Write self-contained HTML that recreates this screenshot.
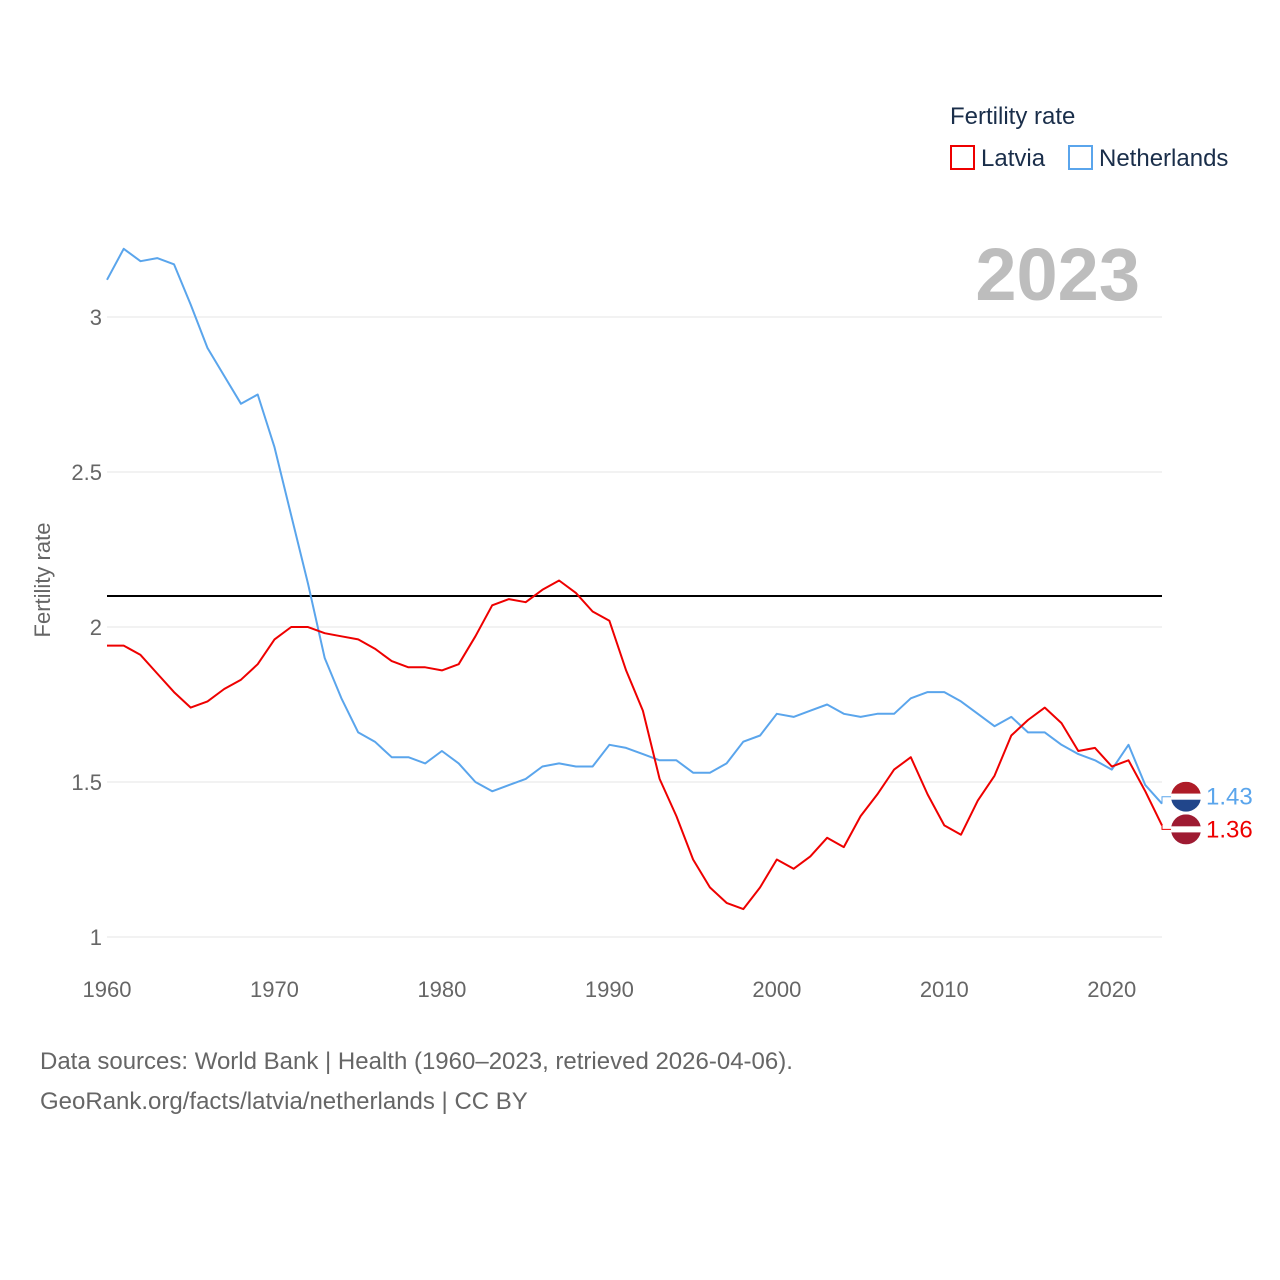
<!DOCTYPE html>
<html><head><meta charset="utf-8"><style>
html,body{margin:0;padding:0;background:#fff;}
svg{display:block;font-family:"Liberation Sans",sans-serif;}
</style></head><body>
<svg id="chart" width="1280" height="1280" viewBox="0 0 1280 1280" xmlns="http://www.w3.org/2000/svg">
<g id="grid"></g>
<g id="yticks"></g>
<g id="xticks"></g>
<text transform="translate(50,580) rotate(-90)" text-anchor="middle" font-size="22" fill="#666">Fertility rate</text>
<text x="1140" y="300" text-anchor="end" font-size="74" font-weight="bold" fill="#bdbdbd">2023</text>
<g>
<text x="950" y="124" font-size="24" fill="#1a2e4a">Fertility rate</text>
<rect x="951" y="146" width="23" height="23" fill="none" stroke="#e00" stroke-width="2"/>
<text x="981" y="166" font-size="24" fill="#1a2e4a">Latvia</text>
<rect x="1069" y="146" width="23" height="23" fill="none" stroke="#5aa5ec" stroke-width="2"/>
<text x="1099" y="166" font-size="24" fill="#1a2e4a">Netherlands</text>
</g>
<g id="series"></g>
<g id="ends"></g>
<text x="40" y="1069" font-size="24" fill="#666">Data sources: World Bank | Health (1960–2023, retrieved 2026-04-06).</text>
<text x="40" y="1109" font-size="24" fill="#666">GeoRank.org/facts/latvia/netherlands | CC BY</text>
</svg>
<script>
const years = [];
for (let y = 1960; y <= 2023; y++) years.push(y);
const latvia = [1.94,1.94,1.91,1.85,1.79,1.74,1.76,1.80,1.83,1.88,1.96,2.00,2.00,1.98,1.97,1.96,1.93,1.89,1.87,1.87,1.86,1.88,1.97,2.07,2.09,2.08,2.12,2.15,2.11,2.05,2.02,1.86,1.73,1.51,1.39,1.25,1.16,1.11,1.09,1.16,1.25,1.22,1.26,1.32,1.29,1.39,1.46,1.54,1.58,1.46,1.36,1.33,1.44,1.52,1.65,1.70,1.74,1.69,1.60,1.61,1.55,1.57,1.47,1.36];
const netherlands = [3.12,3.22,3.18,3.19,3.17,3.04,2.90,2.81,2.72,2.75,2.58,2.36,2.14,1.90,1.77,1.66,1.63,1.58,1.58,1.56,1.60,1.56,1.50,1.47,1.49,1.51,1.55,1.56,1.55,1.55,1.62,1.61,1.59,1.57,1.57,1.53,1.53,1.56,1.63,1.65,1.72,1.71,1.73,1.75,1.72,1.71,1.72,1.72,1.77,1.79,1.79,1.76,1.72,1.68,1.71,1.66,1.66,1.62,1.59,1.57,1.54,1.62,1.49,1.43];
const yTicks = [1, 1.5, 2, 2.5, 3];
const yTickLabels = ["1", "1.5", "2", "2.5", "3"];
const xTicks = [1960, 1970, 1980, 1990, 2000, 2010, 2020];
const replacementRate = 2.1;

const NS = "http://www.w3.org/2000/svg";
const X0 = 107, X1 = 1162;
const xs = v => X0 + (v - 1960) * (X1 - X0) / (2023 - 1960);
const ys = v => 937 - (v - 1) * 310;
function mk(tag, attrs, parent, text) {
  const e = document.createElementNS(NS, tag);
  for (const k in attrs) e.setAttribute(k, attrs[k]);
  if (text !== undefined) e.textContent = text;
  parent.appendChild(e);
  return e;
}
const grid = document.getElementById('grid');
const yt = document.getElementById('yticks');
yTicks.forEach((t, i) => {
  const l = mk('line', {x1: X0, x2: X1, y1: ys(t), y2: ys(t), stroke: '#e6e6e6', 'stroke-width': 1}, grid);
  
  
  const tx = mk('text', {x: 102, y: ys(t) + 8, 'text-anchor': 'end', 'font-size': 22, fill: '#666'}, yt, yTickLabels[i]);
  
  
});
const xt = document.getElementById('xticks');
xTicks.forEach(t => {
  const tx = mk('text', {x: xs(t), y: 997, 'text-anchor': 'middle', 'font-size': 22, fill: '#666'}, xt, String(t));
  
  
});
const ser = document.getElementById('series');
const ref = mk('line', {x1: X0, x2: X1, y1: ys(replacementRate), y2: ys(replacementRate), stroke: '#000', 'stroke-width': 2}, ser);


function line(vals, color, name) {
  const d = vals.map((v, i) => (i ? 'L' : 'M') + xs(years[i]).toFixed(1) + ' ' + ys(v).toFixed(1)).join(' ');
  const p = mk('path', {d: d, fill: 'none', stroke: color, 'stroke-width': 2, 'stroke-linejoin': 'round'}, ser);
  
  
}
line(netherlands, '#5aa5ec', 'netherlands-line');
line(latvia, '#e00', 'latvia-line');

const ends = document.getElementById('ends');
function endLabel(val, color, stripes, name, yOff) {
  const fy = ys(val) + yOff;
  const c = mk('path', {d: `M${X1} ${ys(val)} L${X1} ${fy} L1172 ${fy}`, fill: 'none', stroke: color, 'stroke-width': 1}, ends);
  
  
  const g = mk('g', {}, ends);
  
  
  const cid = 'clip-' + name;
  const cp = mk('clipPath', {id: cid}, g);
  mk('circle', {cx: 1186, cy: fy, r: 15}, cp);
  const h = [12, 6, 12];
  let yy = fy - 15;
  stripes.forEach((s, i) => { mk('rect', {x: 1170, y: yy, width: 32, height: h[i], fill: s, 'clip-path': `url(#${cid})`}, g); yy += h[i]; });
  const t = mk('text', {x: 1206, y: fy + 8, 'font-size': 24, fill: color}, ends, val.toFixed(2));
  
  
}
endLabel(netherlands[netherlands.length - 1], '#5aa5ec', ['#ae1c28', '#fff', '#21468b'], 'netherlands-end', -7);
endLabel(latvia[latvia.length - 1], '#e00', ['#9e1b32', '#fff', '#9e1b32'], 'latvia-end', 4);
</script>
</body></html>
